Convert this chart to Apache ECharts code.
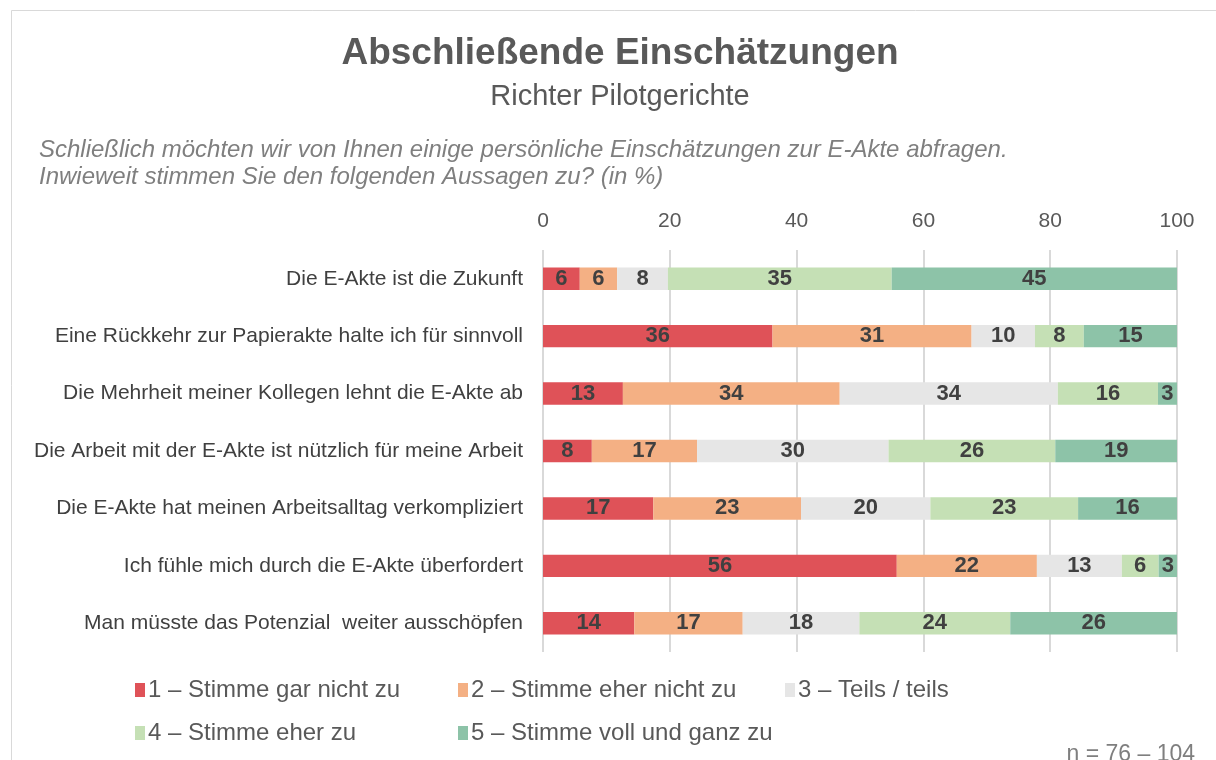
<!DOCTYPE html>
<html>
<head>
<meta charset="utf-8">
<script src="https://cdn.jsdelivr.net/npm/echarts@6/dist/echarts.min.js"></script>
<style>
  html, body { margin: 0; padding: 0; background: #fff; }
  #main { width: 1216px; height: 760px; }
</style>
</head>
<body>
<div id="main"></div>
<script>
  // Aussagen (von oben nach unten)
  const statements = [
    'Die E-Akte ist die Zukunft',
    'Eine Rückkehr zur Papierakte halte ich für sinnvoll',
    'Die Mehrheit meiner Kollegen lehnt die E-Akte ab',
    'Die Arbeit mit der E-Akte ist nützlich für meine Arbeit',
    'Die E-Akte hat meinen Arbeitsalltag verkompliziert',
    'Ich fühle mich durch die E-Akte überfordert',
    'Man müsste das Potenzial  weiter ausschöpfen'
  ]
  const levels = [
    '1 – Stimme gar nicht zu',
    '2 – Stimme eher nicht zu',
    '3 – Teils / teils',
    '4 – Stimme eher zu',
    '5 – Stimme voll und ganz zu'
  ]
  const colors = ['#DF5258', '#F4B084', '#E6E6E6', '#C5E0B5', '#8DC3A8']

  // Anteile in %, je Antwortstufe
  const level1 = [5.8, 36.2, 12.6, 7.7, 17.4, 55.8, 14.4]
  const level2 = [5.9, 31.4, 34.2, 16.6, 23.3, 22.1, 17.1]
  const level3 = [8.0, 10.0, 34.4, 30.2, 20.4, 13.4, 18.4]
  const level4 = [35.3, 7.7, 15.8, 26.3, 23.3, 5.8, 23.8]
  const level5 = [45.0, 14.7, 3.0, 19.2, 15.6, 2.9, 26.3]
  const xTicks = [0, 20, 40, 60, 80, 100]

  const font = 'Liberation Sans, Arial, sans-serif'
  const chart = echarts.init(document.getElementById('main'))

  // Legende in zwei Zeilen wie im Original
  const legendPos = [
    { left: 135, top: 678 },
    { left: 458, top: 678 },
    { left: 785, top: 678 },
    { left: 135, top: 721 },
    { left: 458, top: 721 }
  ]

  chart.setOption({
    backgroundColor: '#fff',
    textStyle: { fontFamily: font },
    title: [
      {
        text: 'Abschließende Einschätzungen',
        left: 615,
        top: 30,
        textAlign: 'center',
        textStyle: { fontSize: 37, fontWeight: 'bold', color: '#595959', fontFamily: font }
      },
      {
        text: 'Richter Pilotgerichte',
        left: 615,
        top: 77,
        textAlign: 'center',
        textStyle: { fontSize: 29, fontWeight: 'normal', color: '#595959', fontFamily: font }
      },
      {
        text: 'Schließlich möchten wir von Ihnen einige persönliche Einschätzungen zur E-Akte abfragen.\nInwieweit stimmen Sie den folgenden Aussagen zu? (in %)',
        left: 34,
        top: 132,
        textStyle: {
          fontSize: 24,
          fontStyle: 'italic',
          fontWeight: 'normal',
          color: '#7F7F7F',
          lineHeight: 27,
          fontFamily: font
        }
      },
      {
        text: 'n = 76 – 104',
        right: 16,
        top: 738,
        textStyle: { fontSize: 23, fontWeight: 'normal', color: '#7F7F7F', fontFamily: font }
      }
    ],
    legend: levels.map((name, i) => ({
      data: [name],
      left: legendPos[i].left,
      top: legendPos[i].top,
      itemWidth: 10,
      itemHeight: 14,
      itemGap: 0,
      padding: 0,
      icon: 'rect',
      selectedMode: false,
      textStyle: { fontSize: 24, color: '#595959', padding: [0, 0, 0, -2], fontFamily: font }
    })),
    grid: {
      left: 543,
      right: 39,
      top: 250,
      bottom: 108
    },
    xAxis: {
      type: 'value',
      position: 'top',
      min: 0,
      max: 100,
      interval: 20,
      axisLine: { show: false },
      axisTick: { show: false },
      axisLabel: {
        fontSize: 21,
        color: '#595959',
        margin: 18,
        formatter: (v) => (xTicks.includes(v) ? String(v) : '')
      },
      splitLine: { lineStyle: { color: '#D9D9D9', width: 2 } }
    },
    yAxis: {
      type: 'category',
      inverse: true,
      data: statements,
      axisLine: { show: false },
      axisTick: { show: false },
      axisLabel: { fontSize: 21, color: '#404040', margin: 20 }
    },
    series: [level1, level2, level3, level4, level5].map((vals, i) => ({
      name: levels[i],
      type: 'bar',
      stack: 'total',
      data: vals,
      barCategoryGap: '61%',
      itemStyle: { color: colors[i] },
      label: {
        show: true,
        position: 'inside',
        fontSize: 22,
        fontWeight: 'bold',
        color: '#404040',
        fontFamily: font,
        formatter: (p) => Math.round(p.value)
      }
    })),
    graphic: [
      {
        type: 'rect',
        shape: { x: 11.5, y: 10.5, width: 1230, height: 780 },
        style: { fill: 'none', stroke: '#D9D9D9', lineWidth: 1 },
        silent: true
      }
    ]
  })
</script>
</body>
</html>
